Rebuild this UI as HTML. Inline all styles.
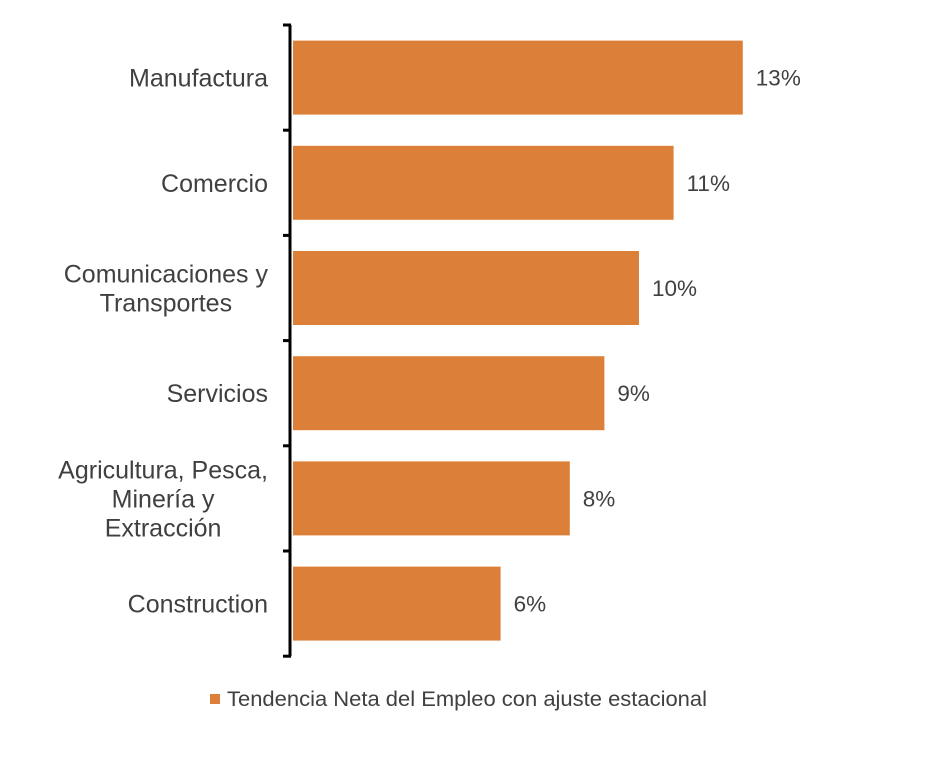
<!DOCTYPE html>
<html><head><meta charset="utf-8"><style>
body{margin:0;background:#fff;}
svg text{font-family:"Liberation Sans",Arial,sans-serif;fill:#404040;}
</style></head><body>
<svg width="936" height="778" viewBox="0 0 936 778">
<g id="plot"></g>
<g>
<rect x="210" y="694" width="10" height="10" fill="#DC8039"/>
<text x="227" y="706" font-size="21.5" textLength="480" lengthAdjust="spacingAndGlyphs">Tendencia Neta del Empleo con ajuste estacional</text>
</g>
</svg>
<script>
const categories=[["Manufactura"],["Comercio"],["Comunicaciones y","Transportes"],["Servicios"],["Agricultura, Pesca,","Minería y","Extracción"],["Construction"]];
const values=[13,11,10,9,8,6];
const valueLabels=["13%","11%","10%","9%","8%","6%"];
const NS="http://www.w3.org/2000/svg";
const plotG=document.getElementById('plot');
const x0=293,pxPer=34.6,plotTop=25,band=105.2,barH=74;
const xs=v=>x0+v*pxPer;
const yb=i=>plotTop+i*band;
function mk(t,a){const e=document.createElementNS(NS,t);for(const k in a)e.setAttribute(k,a[k]);plotG.appendChild(e);return e;}
values.forEach((v,i)=>{
 const y=yb(i)+(band-barH)/2;
 const r=mk('rect',{x:x0,y:y,width:xs(v)-x0,height:barH,fill:'#DC8039'});
 
 
 const t=mk('text',{x:xs(v)+13,y:y+barH/2+8,'font-size':22.5});
 t.textContent=valueLabels[i];
 
 
 const lines=categories[i];const lh=29;
 const cy=yb(i)+band/2;
 const els=lines.map((s,j)=>{
  const lt=mk('text',{x:268,y:cy+9+(j-(lines.length-1)/2)*lh,'font-size':25,'text-anchor':'middle'});
  lt.textContent=s;
  
  
  return lt;
 });
 const maxW=Math.max(...els.map(e=>e.getComputedTextLength()));
 els.forEach(e=>e.setAttribute('x',268-maxW/2));
});
const ax=mk('line',{x1:290,y1:plotTop,x2:290,y2:plotTop+band*values.length,stroke:'#000','stroke-width':3});


for(let i=0;i<=values.length;i++){
 const tk=mk('line',{x1:283,y1:yb(i),x2:291,y2:yb(i),stroke:'#000','stroke-width':3});
 
 
}
</script>
</body></html>
